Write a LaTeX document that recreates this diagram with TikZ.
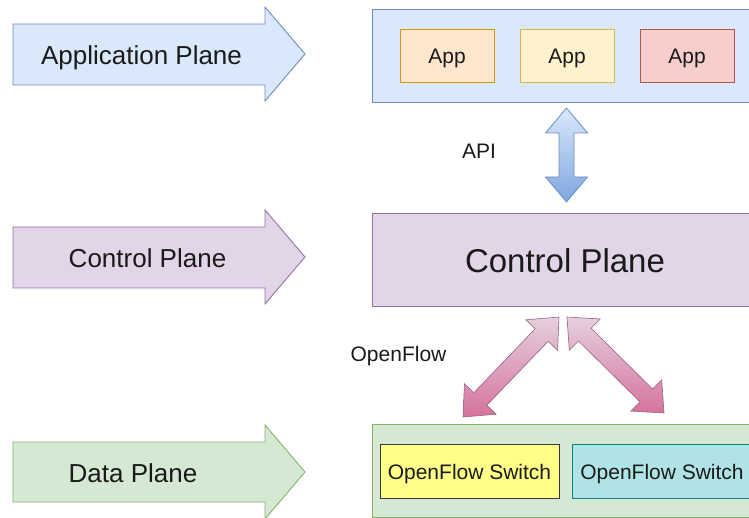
\documentclass[tikz,border=0pt]{standalone}
\usepackage{fontspec}
\setmainfont{Liberation Sans}
\usetikzlibrary{calc}
\definecolor{bfill}{HTML}{DAE8FC}\definecolor{bline}{HTML}{6C8EBF}
\definecolor{pfill}{HTML}{E1D5E7}\definecolor{pline}{HTML}{9673A6}
\definecolor{gfill}{HTML}{D5E8D4}\definecolor{gline}{HTML}{82B366}
\definecolor{ofill}{HTML}{FFE6CC}\definecolor{oline}{HTML}{D79B00}
\definecolor{yfill}{HTML}{FFF2CC}\definecolor{yline}{HTML}{D6B656}
\definecolor{rfill}{HTML}{F8CECC}\definecolor{rline}{HTML}{B85450}
\definecolor{swfill}{HTML}{FFFF88}\definecolor{swline}{HTML}{36393D}
\definecolor{cfill}{HTML}{B0E3E6}\definecolor{cline}{HTML}{0E8088}
\definecolor{apidark}{HTML}{7EA6E0}
\definecolor{oflight}{HTML}{E6D0DE}\definecolor{ofdark}{HTML}{D5739D}\definecolor{ofline}{HTML}{996185}
\definecolor{txtc}{HTML}{1A1A1A}
\newcommand{\mydblarrow}[5]{%
  \coordinate (#1-p1) at ($(#1-a)!25pt!(#1-b)$);
  \coordinate (#1-p2) at ($(#1-b)!25pt!(#1-a)$);
  \path[#5] (#1-a) -- ($(#1-p1)!#3!90:(#1-a)$) -- ($(#1-p1)!#4!90:(#1-a)$)
    -- ($(#1-p2)!#4!-90:(#1-b)$) -- ($(#1-p2)!#3!-90:(#1-b)$) -- (#1-b)
    -- ($(#1-p2)!#3!90:(#1-b)$) -- ($(#1-p2)!#4!90:(#1-b)$)
    -- ($(#1-p1)!#4!-90:(#1-a)$) -- ($(#1-p1)!#3!-90:(#1-a)$) -- cycle;}
\begin{document}
\begin{tikzpicture}[x=1pt,y=-1pt,
  f21/.style={font=\fontsize{21}{25}\selectfont, text height=23.1pt, text depth=6.3pt},
  f26/.style={font=\fontsize{26}{31}\selectfont, text height=28.6pt, text depth=7.8pt},
  f33/.style={font=\fontsize{33}{40}\selectfont, text height=36.3pt, text depth=9.9pt},
  lbl/.style={inner sep=0pt, text=txtc},
  box/.style={draw, line width=0.9pt, inner sep=0pt, text=txtc},
  plane/.style={draw, line width=0.9pt, line join=miter},
]
\useasboundingbox (0,0) rectangle (749,518);
\clip (0,0) rectangle (749,518);
% left plane arrows
\path[plane, fill=bfill, draw=bline] (13,24) -- (265,24) -- (265,7) -- (305,54) -- (265,101) -- (265,85) -- (13,85) -- cycle;
\node[lbl, f26] (lapp) at (141.5,54) {Application Plane};
\path[plane, fill=pfill, draw=pline] (13,227) -- (265,227) -- (265,210) -- (305,257) -- (265,304) -- (265,288) -- (13,288) -- cycle;
\node[lbl, f26] (lctl) at (147.5,257) {Control Plane};
\path[plane, fill=gfill, draw=gline] (13,442) -- (265,442) -- (265,425) -- (305,472) -- (265,519) -- (265,502) -- (13,502) -- cycle;
\node[lbl, f26] (ldat) at (133,472) {Data Plane};
% application plane
\draw[fill=bfill, draw=bline, line width=0.9pt] (372,9) rectangle (755,102);
\node[box, f21, fill=ofill, draw=oline, minimum width=94pt, minimum height=53pt] (app1) at (447,55.5) {App};
\node[box, f21, fill=yfill, draw=yline, minimum width=94pt, minimum height=53pt] (app2) at (567,55.5) {App};
\node[box, f21, fill=rfill, draw=rline, minimum width=94pt, minimum height=53pt] (app3) at (687,55.5) {App};
% control plane
\draw[fill=pfill, draw=pline, line width=0.9pt] (372,213) rectangle (755,306);
\node[lbl, f33] (ctl) at (565,259.5) {Control Plane};
% data plane
\draw[fill=gfill, draw=gline, line width=0.9pt] (372,424) rectangle (755,517);
\node[box, f21, fill=swfill, draw=swline, minimum width=179pt, minimum height=54pt] (sw1) at (469.5,471) {OpenFlow Switch};
\node[box, f21, fill=cfill, draw=cline, minimum width=180pt, minimum height=54pt] (sw2) at (662,471) {OpenFlow Switch};
% API arrow
\coordinate (api-a) at (566.5,108);
\coordinate (api-b) at (566.5,202);
\mydblarrow{api}{}{21pt}{7.5pt}{draw=bline, line width=0.8pt, top color=bfill, bottom color=apidark, line join=miter}
\node[lbl, f21] (apil) at (479,150.5) {API};
% OpenFlow arrows
\coordinate (ofl-a) at (559,317);
\coordinate (ofl-b) at (463,417);
\mydblarrow{ofl}{}{22pt}{9pt}{draw=ofline, line width=0.6pt, top color=oflight, bottom color=ofdark, line join=miter}
\coordinate (ofr-a) at (567,317);
\coordinate (ofr-b) at (664,413);
\mydblarrow{ofr}{}{22pt}{9pt}{draw=ofline, line width=0.6pt, top color=oflight, bottom color=ofdark, line join=miter}
\node[lbl, f21] (ofl) at (398.5,353.5) {OpenFlow};
\end{tikzpicture}
\end{document}
